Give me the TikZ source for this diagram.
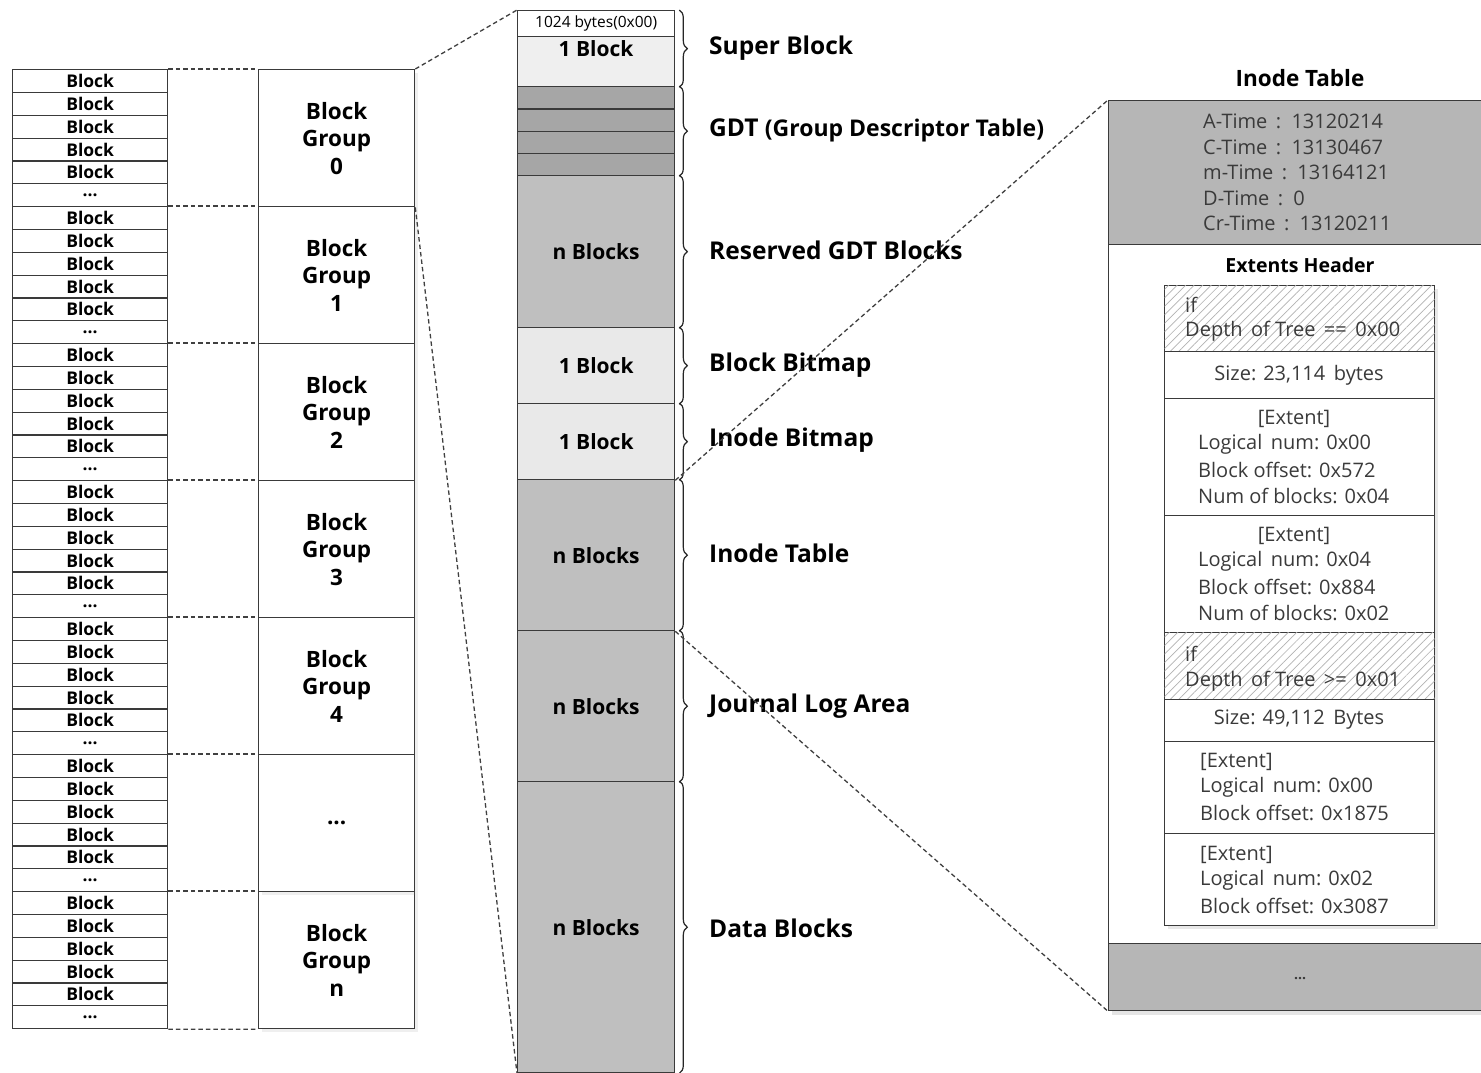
\documentclass[tikz,border=0pt]{standalone}
\usepackage{fontspec}
\setmainfont{Open Sans}
\usetikzlibrary{decorations.pathreplacing,patterns.meta,shadows}
\definecolor{lightfill}{HTML}{EFEFEF}
\definecolor{bitfill}{HTML}{E9E9E9}
\definecolor{gdtfill}{HTML}{A6A6A6}
\definecolor{midfill}{HTML}{BFBFBF}
\definecolor{panelgray}{HTML}{B6B6B6}
\definecolor{textgray}{HTML}{3A3A3A}
\definecolor{linegray}{HTML}{3A3A3A}
\begin{document}
\begin{tikzpicture}[x=1pt,y=-1pt,
  cell/.style={draw=linegray,line width=1.3pt,fill=white,minimum width=155pt,minimum height=22.83pt,inner sep=0pt,anchor=north west,font=\bfseries\fontsize{17.5}{18}\selectfont},
  grp/.style={draw=linegray,line width=1.3pt,fill=white,minimum width=156pt,minimum height=137pt,inner sep=0pt,anchor=north west,align=center,font=\bfseries\fontsize{22.5}{27.5}\selectfont,drop shadow={opacity=0.12,shadow xshift=3pt,shadow yshift=-3pt}},
  mid/.style={draw=linegray,line width=1.3pt,minimum width=157pt,inner sep=0pt,anchor=north west,font=\bfseries\fontsize{21}{23}\selectfont},
  brc/.style={decorate,decoration={brace,amplitude=8pt},line width=1.2pt,draw=black!85},
  lbl/.style={anchor=west,inner sep=0pt,font=\bfseries\fontsize{24.5}{27}\selectfont},
  dashln/.style={draw=black!75,line width=1.3pt,dash pattern=on 4.5pt off 3pt},
  panel/.style={draw=linegray,line width=1.3pt,minimum width=420pt,inner sep=0pt,anchor=north west},
  ibox/.style={draw=linegray,line width=1.3pt,fill=white,minimum width=270pt,inner sep=0pt,anchor=north west,drop shadow={opacity=0.18,shadow xshift=3pt,shadow yshift=-3pt}},
  hatch/.style={ibox,postaction={pattern={Lines[angle=45,distance=6pt,line width=0.7pt]},pattern color=black!30}},
  ptxt/.style={anchor=west,inner sep=0pt,text=textgray,font=\fontsize{20}{22}\selectfont},
  ctxt/.style={inner sep=0pt,text=textgray,font=\fontsize{20}{22}\selectfont}
]
\path[use as bounding box] (0,0) rectangle (1481,1072);
\clip (0,0) rectangle (1481,1072);
\fill[white] (0,0) rectangle (1481,1072);

% ---------- left column: blocks ----------
\foreach \g in {0,...,6}{
  \foreach \r in {0,...,5}{
    \pgfmathsetmacro\yy{69+\g*137+\r*22.8333}
    \ifnum\r=5
      \node[cell] (b\g-\r) at (12,\yy) {...};
    \else
      \node[cell] (b\g-\r) at (12,\yy) {Block};
    \fi
  }
}
% ---------- group column ----------
\foreach \g/\lab in {0/0,1/1,2/2,3/3,4/4,6/n}{
  \pgfmathsetmacro\yy{69+\g*137}
  \node[grp] (g\g) at (258,\yy) {Block\\Group\\\lab};
}
\node[grp] (g5) at (258,754) {...};
\foreach \g in {0,...,6}{
  \draw[dashln] (b\g-0.north east) -- (g\g.north west);
}
\draw[dashln] (b6-5.south east) -- (g6.south west);

% ---------- middle column ----------
\node[mid,fill=white,minimum height=26pt,font=\fontsize{15.5}{16}\selectfont] (hdr) at (517,10) {1024 bytes(0x00)};
\node[mid,fill=lightfill,minimum height=50pt] (sb) at (517,36) {};
\node[font=\bfseries\fontsize{21}{23}\selectfont,inner sep=0pt] (sbt) at (596,49) {1 Block};
\foreach \i in {0,...,3}{
  \pgfmathsetmacro\yy{86+\i*22.25}
  \node[mid,fill=gdtfill,minimum height=22.25pt] (gdt\i) at (517,\yy) {};
}
\node[mid,fill=midfill,minimum height=152pt] (rsv) at (517,175) {n Blocks};
\node[mid,fill=bitfill,minimum height=76pt] (bb) at (517,327) {1 Block};
\node[mid,fill=bitfill,minimum height=76pt] (ib) at (517,403) {1 Block};
\node[mid,fill=midfill,minimum height=151pt] (it) at (517,479) {n Blocks};
\node[mid,fill=midfill,minimum height=151pt] (jl) at (517,630) {n Blocks};
\node[mid,fill=midfill,minimum height=291pt] (db) at (517,781) {n Blocks};

% braces
\draw[brc] ([xshift=4pt]hdr.north east) -- ([xshift=4pt]sb.south east);
\draw[brc] ([xshift=4pt]gdt0.north east) -- ([xshift=4pt]gdt3.south east);
\draw[brc] ([xshift=4pt]rsv.north east) -- ([xshift=4pt]rsv.south east);
\draw[brc] ([xshift=4pt]bb.north east) -- ([xshift=4pt]bb.south east);
\draw[brc] ([xshift=4pt]ib.north east) -- ([xshift=4pt]ib.south east);
\draw[brc] ([xshift=4pt]it.north east) -- ([xshift=4pt]it.south east);
\draw[brc] ([xshift=4pt]jl.north east) -- ([xshift=4pt]jl.south east);
\draw[brc] ([xshift=4pt]db.north east) -- ([xshift=4pt]db.south east);

% labels
\node[lbl] (lsb) at (709,48) {Super Block};
\node[lbl] (lgdt) at (709,130) {GDT {\fontsize{23}{26}\selectfont(Group Descriptor Table)}};
\node[lbl] (lrsv) at (709,250) {Reserved GDT Blocks};
\node[lbl] (lbb) at (709,365) {Block Bitmap};
\node[lbl] (lib) at (709,440) {Inode Bitmap};
\node[lbl] (lit) at (709,553) {Inode Table};
\node[lbl] (ljl) at (709,706) {Journal Log Area};
\node[lbl] (ldb) at (709,928) {Data Blocks};

% ---------- right panel ----------
\node[font=\bfseries\fontsize{22.5}{26}\selectfont,inner sep=0pt] (ttl) at (1300,78) {Inode Table};
\node[panel,fill=white,minimum height=910pt,drop shadow={opacity=0.2,shadow xshift=3pt,shadow yshift=-4pt}] (rall) at (1108,100) {};
\node[panel,fill=panelgray,minimum height=144pt] (rtop) at (1108,100) {};
\node[panel,fill=white,minimum height=699pt] (rmid) at (1108,244) {};
\node[panel,fill=panelgray,minimum height=67pt] (rbot) at (1108,943) {};

\node[ptxt] (t1) at (1203,121) {A-Time \,:\, 13120214};
\node[ptxt] (t2) at (1203,147) {C-Time \,:\, 13130467};
\node[ptxt] (t3) at (1203,172) {m-Time \,:\, 13164121};
\node[ptxt] (t4) at (1203,198) {D-Time \,:\, 0};
\node[ptxt] (t5) at (1203,223) {Cr-Time \,:\, 13120211};

\node[font=\bfseries\fontsize{19.5}{22}\selectfont,inner sep=0pt] (eh) at (1300,265) {Extents Header};

\node[hatch,minimum height=66pt] (h1) at (1164,285) {};
\node[ibox,minimum height=47pt] (s1) at (1164,351) {};
\node[ibox,minimum height=117pt] (e1) at (1164,398) {};
\node[ibox,minimum height=117pt] (e2) at (1164,515) {};
\node[hatch,minimum height=67pt] (h2) at (1164,632) {};
\node[ibox,minimum height=42pt] (s2) at (1164,699) {};
\node[ibox,minimum height=92pt] (e3) at (1164,741) {};
\node[ibox,minimum height=92pt] (e4) at (1164,833) {};

\node[ptxt] (h1a) at (1185,305) {if};
\node[ptxt] (h1b) at (1185,331) {Depth \,of Tree \,== \,0x00};
\node[ctxt] (s1t) at (1299,375) {Size: 23,114 \,bytes};
\node[ctxt] (e1a) at (1294,419) {[Extent]};
\node[ptxt] (e1b) at (1198,444) {Logical \,num: 0x00};
\node[ptxt] (e1c) at (1198,470) {Block offset: 0x572};
\node[ptxt] (e1d) at (1198,496) {Num of blocks: 0x04};
\node[ctxt] (e2a) at (1294,536) {[Extent]};
\node[ptxt] (e2b) at (1198,561) {Logical \,num: 0x04};
\node[ptxt] (e2c) at (1198,587) {Block offset: 0x884};
\node[ptxt] (e2d) at (1198,613) {Num of blocks: 0x02};
\node[ptxt] (h2a) at (1185,654) {if};
\node[ptxt] (h2b) at (1185,681) {Depth \,of Tree \,>= \,0x01};
\node[ctxt] (s2t) at (1299,720) {Size: 49,112 \,Bytes};
\node[ptxt] (e3a) at (1200,762) {[Extent]};
\node[ptxt] (e3b) at (1200,787) {Logical \,num: 0x00};
\node[ptxt] (e3c) at (1200,813) {Block offset: 0x1875};
\node[ptxt] (e4a) at (1200,855) {[Extent]};
\node[ptxt] (e4b) at (1200,880) {Logical \,num: 0x02};
\node[ptxt] (e4c) at (1200,906) {Block offset: 0x3087};
\node[ctxt,font=\bfseries\fontsize{14}{16}\selectfont] (dots) at (1300,979) {...};

% ---------- zoom connectors ----------
\draw[dashln] (g0.north east) -- (hdr.north west);
\draw[dashln] (g0.south east) -- (db.south west);
\draw[dashln] (ib.south east) -- (rtop.north west);
\draw[dashln] (it.south east) -- (rbot.south west);
\end{tikzpicture}
\end{document}
